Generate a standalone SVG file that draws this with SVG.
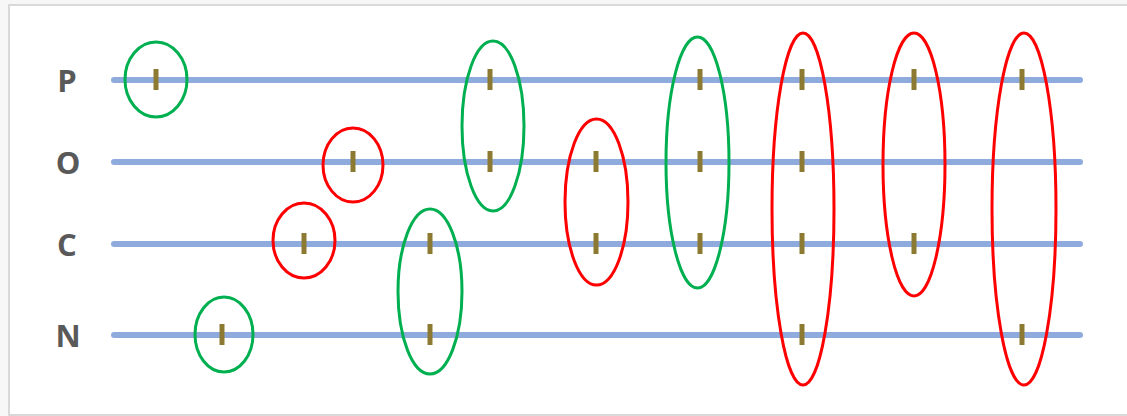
<svg xmlns="http://www.w3.org/2000/svg" width="1127" height="416" viewBox="0 0 1127 416">
<defs>
<style>
.lbl{font-family:"Open Sans","Liberation Sans",Arial,sans-serif;font-weight:bold;font-size:31px;fill:#595959;text-anchor:middle}
.ln{stroke:#8FAADC;stroke-width:6;stroke-linecap:round}
.tk{stroke:#8C7A33;stroke-width:5}
.g{fill:none;stroke:#00B050;stroke-width:3}
.r{fill:none;stroke:#FF0000;stroke-width:3}
</style>
</defs>
<rect width="1127" height="416" fill="#f7f7f7"/>
<rect x="9" y="5" width="1130" height="410" fill="#ffffff" stroke="#d9d9d9" stroke-width="2"/>
<g id="labels">
<text class="lbl" x="67" y="92">P</text>
<text class="lbl" x="68" y="174">O</text>
<text class="lbl" x="67" y="256">C</text>
<text class="lbl" x="68" y="347">N</text>
</g>
<g id="lines">
<line class="ln" x1="114" y1="80" x2="1080" y2="80"/>
<line class="ln" x1="114" y1="162" x2="1080" y2="162"/>
<line class="ln" x1="114" y1="244" x2="1080" y2="244"/>
<line class="ln" x1="114" y1="335" x2="1080" y2="335"/>
</g>
<g id="ticks">
<path class="tk" d="M156 69v21M490 69v21M700 69v21M802 69v21M914 69v21M1022 69v21"/>
<path class="tk" d="M353 151v21M490 151v21M596 151v21M700 151v21M802 151v21"/>
<path class="tk" d="M304 233v21M430 233v21M596 233v21M700 233v21M802 233v21M914 233v21"/>
<path class="tk" d="M222 324v21M430 324v21M802 324v21M1022 324v21"/>
</g>
<g id="e1"><ellipse class="g" cx="156" cy="79.5" rx="31" ry="37.5"/></g>
<g id="e2"><ellipse class="r" cx="353" cy="165" rx="30" ry="37"/></g>
<g id="e3"><ellipse class="r" cx="304" cy="240.5" rx="31" ry="37.5"/></g>
<g id="e4"><ellipse class="g" cx="224" cy="334.5" rx="29" ry="37.5"/></g>
<g id="e5"><ellipse class="g" cx="430" cy="291.5" rx="32" ry="82.5"/></g>
<g id="e6"><ellipse class="g" cx="493" cy="126" rx="31" ry="85"/></g>
<g id="e7"><ellipse class="r" cx="596.5" cy="202" rx="31.5" ry="83"/></g>
<g id="e8"><ellipse class="g" cx="697.5" cy="162.5" rx="31.5" ry="125.5"/></g>
<g id="e9"><ellipse class="r" cx="803" cy="209" rx="31" ry="176"/></g>
<g id="e10"><ellipse class="r" cx="914" cy="164.5" rx="31" ry="131.5"/></g>
<g id="e11"><ellipse class="r" cx="1024" cy="209" rx="32" ry="176"/></g>
</svg>
